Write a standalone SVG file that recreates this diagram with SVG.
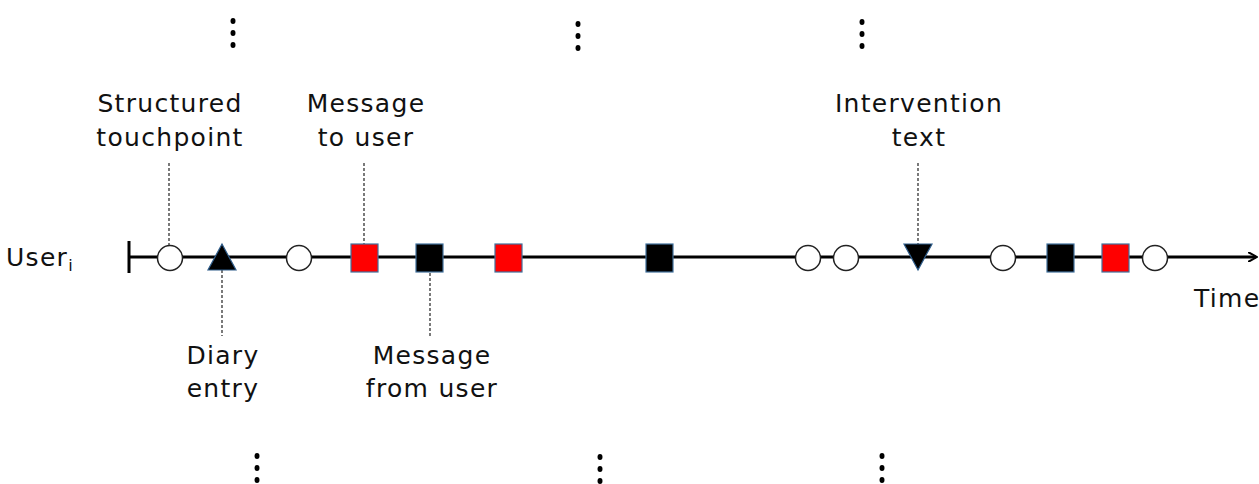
<svg xmlns="http://www.w3.org/2000/svg" width="1259" height="484" viewBox="0 0 1259 484">
<defs>
<style>
.lbl{font-family:"DejaVu Sans","Noto Sans",sans-serif;font-size:25px;letter-spacing:1.3px;fill:#111;text-anchor:middle}
.axis{stroke:#000;stroke-width:3;fill:none}
.lead{stroke:#333;stroke-width:1.3;stroke-dasharray:3,2;fill:none}
.circ{fill:#fff;stroke:#222;stroke-width:1.5}
.red{fill:#f00;stroke:#41719c;stroke-width:1.2}
.blk{fill:#000;stroke:#41719c;stroke-width:1.2}
.tri{fill:#000;stroke:#2e5c8a;stroke-width:1.2}
.dot{fill:#000}
</style>
<marker id="arr" markerWidth="10" markerHeight="10" refX="8" refY="5" orient="auto" markerUnits="userSpaceOnUse">
<path d="M0,0 L9,5 L0,10" fill="none" stroke="#000" stroke-width="2"/>
</marker>
</defs>
<rect width="1259" height="484" fill="#fff"/>
<g id="connectors">
<line class="axis" x1="128" y1="257" x2="1256" y2="257" marker-end="url(#arr)"/>
<line class="axis" x1="129" y1="241" x2="129" y2="273"/>
<line class="lead" x1="169" y1="163" x2="169" y2="245"/>
<line class="lead" x1="364" y1="163" x2="364" y2="244"/>
<line class="lead" x1="222" y1="270" x2="222" y2="336"/>
<line class="lead" x1="430" y1="273" x2="430" y2="336"/>
<line class="lead" x1="918" y1="163" x2="918" y2="245"/>
</g>
<g id="node-circle1"><circle class="circ" cx="170" cy="258" r="12.5"/></g>
<g id="node-triangle-up"><polygon class="tri" points="222,244 236,270 208,270"/></g>
<g id="node-circle2"><circle class="circ" cx="299" cy="258" r="12.5"/></g>
<g id="node-red1"><rect class="red" x="351" y="244" width="27" height="28"/></g>
<g id="node-black1"><rect class="blk" x="416" y="244" width="27" height="28"/></g>
<g id="node-red2"><rect class="red" x="495" y="244" width="27" height="28"/></g>
<g id="node-black2"><rect class="blk" x="646" y="244" width="27" height="28"/></g>
<g id="node-circle3"><circle class="circ" cx="808" cy="258" r="12.5"/></g>
<g id="node-circle4"><circle class="circ" cx="846" cy="258" r="12.5"/></g>
<g id="node-triangle-down"><polygon class="tri" points="904,244 932,244 918,270"/></g>
<g id="node-circle5"><circle class="circ" cx="1003" cy="258" r="12.5"/></g>
<g id="node-black3"><rect class="blk" x="1047" y="244" width="27" height="28"/></g>
<g id="node-red3"><rect class="red" x="1102" y="244" width="27" height="28"/></g>
<g id="node-circle6"><circle class="circ" cx="1155" cy="258" r="12.5"/></g>
<g id="labels">
<text class="lbl" x="170" y="112">Structured</text>
<text class="lbl" x="170" y="146">touchpoint</text>
<text class="lbl" x="366" y="112">Message</text>
<text class="lbl" x="366" y="146">to user</text>
<text class="lbl" x="919" y="112">Intervention</text>
<text class="lbl" x="919" y="146">text</text>
<text class="lbl" x="223" y="364">Diary</text>
<text class="lbl" x="223" y="397">entry</text>
<text class="lbl" x="432" y="364">Message</text>
<text class="lbl" x="432" y="397">from user</text>
<text class="lbl" x="6" y="266" style="text-anchor:start">User<tspan font-size="16" dy="5">i</tspan></text>
<text class="lbl" x="1194" y="307" style="text-anchor:start">Time</text>
</g>
<g id="ellipsis">
<ellipse class="dot" cx="233" cy="21" rx="2.5" ry="3"/><ellipse class="dot" cx="233" cy="33" rx="2.5" ry="3"/><ellipse class="dot" cx="233" cy="45" rx="2.5" ry="3"/>
<ellipse class="dot" cx="578" cy="24" rx="2.5" ry="3"/><ellipse class="dot" cx="578" cy="36" rx="2.5" ry="3"/><ellipse class="dot" cx="578" cy="48" rx="2.5" ry="3"/>
<ellipse class="dot" cx="862" cy="22" rx="2.5" ry="3"/><ellipse class="dot" cx="862" cy="34" rx="2.5" ry="3"/><ellipse class="dot" cx="862" cy="46" rx="2.5" ry="3"/>
<ellipse class="dot" cx="257" cy="456" rx="2.5" ry="3"/><ellipse class="dot" cx="257" cy="468" rx="2.5" ry="3"/><ellipse class="dot" cx="257" cy="480" rx="2.5" ry="3"/>
<ellipse class="dot" cx="600" cy="457" rx="2.5" ry="3"/><ellipse class="dot" cx="600" cy="469" rx="2.5" ry="3"/><ellipse class="dot" cx="600" cy="481" rx="2.5" ry="3"/>
<ellipse class="dot" cx="882" cy="456" rx="2.5" ry="3"/><ellipse class="dot" cx="882" cy="468" rx="2.5" ry="3"/><ellipse class="dot" cx="882" cy="480" rx="2.5" ry="3"/>
</g>
</svg>
